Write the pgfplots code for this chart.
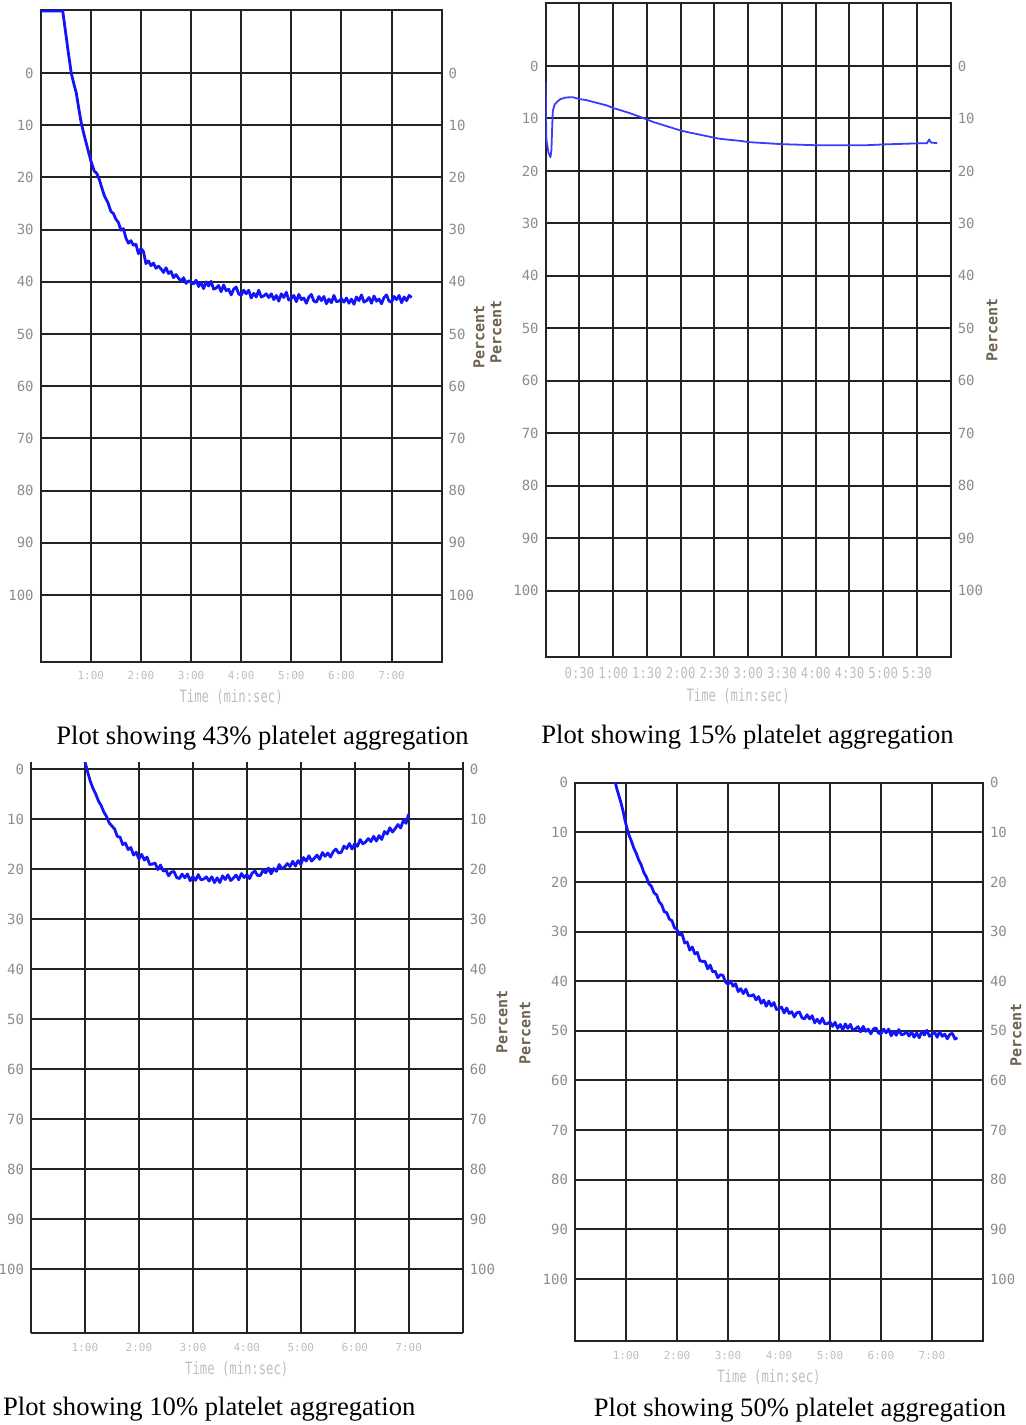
\documentclass[border=0pt]{standalone}
\usepackage{fontspec}
\setmainfont{Liberation Serif}
\newfontfamily\tickfont{DejaVu Sans Mono}
\usepackage{pgfplots}
\pgfplotsset{compat=1.18}
\definecolor{ylab}{RGB}{140,140,140}
\definecolor{xlab}{RGB}{190,190,190}
\definecolor{gridc}{RGB}{35,35,35}
\definecolor{trace}{RGB}{20,20,250}
\definecolor{trace2}{RGB}{60,60,255}
\definecolor{pct}{RGB}{110,98,80}

\pgfplotsset{
  agg/.style={scale only axis, y dir=reverse, clip=true,
    /pgf/number format/assume math mode=true,
    ytick={0,10,...,100}, grid=major,
    major grid style={gridc, line width=1pt},
    axis line style={gridc, line width=1.1pt},
    tick style={draw=none},
    yticklabel style={font=\tickfont\fontsize{7}{7}\selectfont, text=ylab},
    xticklabel style={font=\tickfont\fontsize{5.5}{6}\selectfont, text=xlab, yshift=-1.5pt},
    xlabel style={font=\tickfont\fontsize{8.5}{9}\selectfont, text=xlab, xscale=0.72, xshift=-7pt, yshift=2pt},
    xlabel={Time (min:sec)},
  },
  aggright/.style={scale only axis, y dir=reverse,
    /pgf/number format/assume math mode=true,
    ytick={0,10,...,100}, yticklabel pos=right, xtick=\empty,
    axis line style={draw=none}, tick style={draw=none},
    yticklabel style={font=\tickfont\fontsize{7}{7}\selectfont, text=ylab},
  },
}
\tikzset{
  capt/.style={font=\fontsize{13.3}{15}\selectfont, anchor=base},
  pctl/.style={rotate=90, font=\tickfont\bfseries\fontsize{7.5}{8}\selectfont, text=pct},
}

\begin{document}
\begin{tikzpicture}
\useasboundingbox (0,0) rectangle (513pt,712.5pt);

% ---------------- Panel 1 (43%) ----------------
\begin{axis}[agg, at={(20.35pt,381.65pt)}, anchor=south west,
  width=200.5pt, height=325.85pt, xmin=0, xmax=8, ymin=-12.1, ymax=112.8,
  xtick={0,1,...,8}, xticklabels={,1:00,2:00,3:00,4:00,5:00,6:00,7:00,}]
\addplot[trace, line width=1.4pt, line join=round] coordinates {
(0,-11.9) (0.44,-11.9) (0.5,-7.6) (0.55,-4) (0.61,0) (0.66,2) (0.71,3.8) (0.76,6.8)
(0.81,9.6) (0.87,12) (0.94,14.6) (1.0,16.8) (1.07,18.8) (1.12,19.2) (1.17,20.4)
(1.22,22.0) (1.27,23.5) (1.34,24.8) (1.40,26.5) (1.45,26.9) (1.5,28) (1.55,28.6)
(1.6,30.1) (1.65,29.8) (1.7,31.6) (1.75,32.6) (1.8,32.1) (1.85,33.0) (1.9,32.8)
(1.95,34.6) (2.0,33.6) (2.05,34.2) (2.1,36.5) (2.15,36.0) (2.2,36.9) (2.25,36.4)
(2.3,37.4) (2.35,37.0) (2.4,37.5) (2.45,38.2) (2.5,37.3) (2.55,38.4) (2.6,38.0)
(2.65,39.2) (2.7,38.6) (2.75,39.3) (2.8,39.9) (2.85,39.2) (2.9,40.3) (2.95,39.8)
(3.0,40.1) (3.05,40.4) (3.10,39.7) (3.15,40.9) (3.20,40.2) (3.25,41.3) (3.30,40.0)
(3.35,40.8) (3.40,39.9) (3.45,41.4) (3.50,41.2) (3.55,40.7) (3.60,41.9) (3.65,40.6)
(3.70,41.7) (3.75,41.4) (3.80,42.5) (3.85,41.4) (3.90,41.0) (3.95,42.3) (4.00,42.6)
(4.05,41.6) (4.10,42.3) (4.15,41.6) (4.20,43.1) (4.25,42.2) (4.30,42.9) (4.35,41.6)
(4.40,42.9) (4.45,42.7) (4.50,42.3) (4.55,43.0) (4.60,42.3) (4.65,43.4) (4.70,42.6)
(4.75,43.7) (4.80,42.3) (4.85,43.0) (4.90,42.0) (4.95,43.5) (5.00,43.2) (5.05,42.6)
(5.10,43.8) (5.15,42.4) (5.20,43.4) (5.25,43.1) (5.30,44.1) (5.35,42.9) (5.40,42.4)
(5.45,43.7) (5.50,43.9) (5.55,42.8) (5.60,43.6) (5.65,42.8) (5.70,44.2) (5.75,43.3)
(5.80,44.0) (5.85,42.6) (5.90,43.8) (5.95,43.7) (6.00,43.2) (6.05,43.9) (6.10,43.1)
(6.15,44.1) (6.20,43.3) (6.25,44.3) (6.30,42.9) (6.35,43.6) (6.40,42.5) (6.45,43.9)
(6.50,43.6) (6.55,43.0) (6.60,44.1) (6.65,42.7) (6.70,43.7) (6.75,43.3) (6.80,44.2)
(6.85,43.0) (6.90,42.5) (6.95,43.7) (7.00,43.9) (7.05,42.8) (7.10,43.4) (7.15,42.6)
(7.20,44.0) (7.25,42.9) (7.30,43.6) (7.35,42.6) (7.40,43.0)
};
\end{axis}
\begin{axis}[aggright, at={(20.35pt,381.65pt)}, anchor=south west,
  width=200.5pt, height=325.85pt, xmin=0, xmax=8, ymin=-12.1, ymax=112.8]
\end{axis}

% ---------------- Panel 2 (15%) ----------------
\begin{axis}[agg, at={(272.85pt,383.85pt)}, anchor=south west,
  width=202.5pt, height=327pt, xmin=0, xmax=6, ymin=-11.95, ymax=112.7,
  xtick={0,0.5,...,6}, xticklabels={,0:30,1:00,1:30,2:00,2:30,3:00,3:30,4:00,4:30,5:00,5:30,},
  xticklabel style={font=\tickfont\fontsize{7.5}{8}\selectfont, xscale=0.82, text=xlab}]
\addplot[trace2, line width=0.9pt, line join=round] coordinates {
(0,3) (0.005,10) (0.01,14) (0.04,16.5) (0.07,17.4) (0.085,16) (0.095,12) (0.105,8.6)
(0.13,7.4) (0.17,6.8) (0.22,6.3) (0.3,6.0) (0.4,5.95) (0.5,6.3) (0.6,6.5) (0.75,7.0)
(0.9,7.5) (1.0,8.0) (1.1,8.4) (1.25,9.0) (1.4,9.7) (1.5,10.2) (1.6,10.7) (1.75,11.3)
(1.9,11.9) (2.0,12.3) (2.1,12.6) (2.25,13.0) (2.4,13.4) (2.5,13.7) (2.6,13.9)
(2.75,14.1) (2.9,14.3) (3.0,14.5) (3.25,14.7) (3.5,14.9) (3.75,15.0) (4.0,15.1)
(4.25,15.1) (4.5,15.1) (4.75,15.1) (5.0,14.95) (5.25,14.85) (5.5,14.75) (5.65,14.7)
(5.68,14.0) (5.71,14.6) (5.8,14.7)
};
\end{axis}
\begin{axis}[aggright, at={(272.85pt,383.85pt)}, anchor=south west,
  width=202.5pt, height=327pt, xmin=0, xmax=6, ymin=-11.95, ymax=112.7]
\end{axis}

% ---------------- Panel 3 (10%) ----------------
\begin{axis}[agg, at={(15.5pt,45.85pt)}, anchor=south west,
  width=215.85pt, height=285.65pt, xmin=0, xmax=8, ymin=-1.4, ymax=112.8,
  axis line style={draw=none},
  ytick={0,10,20,30,40,50,60,70,80,90,100,112.8},
  yticklabels={0,10,20,30,40,50,60,70,80,90,100,{}},
  xtick={0,1,...,8}, xticklabels={,1:00,2:00,3:00,4:00,5:00,6:00,7:00,}]
\addplot[trace, line width=1.4pt, line join=round] coordinates {
(1.00,-1.5) (1.05,0.6) (1.10,2.5) (1.15,3.9) (1.20,5.0) (1.25,6.4) (1.30,7.3)
(1.35,8.6) (1.40,9.5) (1.45,10.8) (1.50,11.4) (1.55,12.0) (1.60,13.5) (1.65,13.6)
(1.70,15.1) (1.75,14.8) (1.80,16.1) (1.85,15.7) (1.90,17.2) (1.95,16.65) (2.00,18.0)
(2.05,17.05) (2.10,18.2) (2.15,17.6) (2.20,19.1) (2.25,19.0) (2.30,18.8) (2.35,20.1)
(2.40,19.2) (2.45,20.4) (2.50,20.2) (2.55,21.35) (2.60,20.6) (2.65,20.5) (2.70,21.7)
(2.75,21.9) (2.80,21.0) (2.85,21.75) (2.90,21.0) (2.95,22.35) (3.00,21.5) (3.05,22.25)
(3.10,21.1) (3.15,22.15) (3.20,22.0) (3.25,21.55) (3.30,22.4) (3.35,21.55) (3.40,22.7)
(3.45,21.75) (3.50,22.7) (3.55,21.35) (3.60,22.1) (3.65,21.15) (3.70,22.3) (3.75,21.8)
(3.80,21.2) (3.85,22.15) (3.90,20.9) (3.95,21.7) (4.00,21.1) (4.05,21.9) (4.10,20.8)
(4.15,20.4) (4.20,21.3) (4.25,21.3) (4.30,20.2) (4.35,20.75) (4.40,19.8) (4.45,20.95)
(4.50,19.9) (4.55,20.45) (4.60,19.1) (4.65,19.95) (4.70,19.6) (4.75,18.9) (4.80,19.5)
(4.85,18.45) (4.90,19.4) (4.95,18.3) (5.00,19.1) (5.05,17.7) (5.10,18.4) (5.15,17.35)
(5.20,18.4) (5.25,17.85) (5.30,17.2) (5.35,18.05) (5.40,16.7) (5.45,17.45) (5.50,16.8)
(5.55,17.6) (5.60,16.5) (5.65,16.0) (5.70,16.8) (5.75,16.65) (5.80,15.4) (5.85,15.9)
(5.90,14.9) (5.95,16.0) (6.00,14.9) (6.05,15.45) (6.10,14.1) (6.15,14.95) (6.20,14.6)
(6.25,13.9) (6.30,14.5) (6.35,13.45) (6.40,14.4) (6.45,13.3) (6.50,14.1) (6.55,12.5)
(6.60,13.0) (6.65,11.75) (6.70,12.6) (6.75,11.9) (6.80,11.1) (6.85,11.8) (6.90,10.3)
(6.95,10.85) (7.00,9.0)
};
\end{axis}
\begin{axis}[aggright, at={(15.5pt,45.85pt)}, anchor=south west,
  width=215.85pt, height=285.65pt, xmin=0, xmax=8, ymin=-1.4, ymax=112.8]
\end{axis}

% ---------------- Panel 4 (50%) ----------------
\begin{axis}[agg, at={(287.5pt,42pt)}, anchor=south west,
  width=204pt, height=279.15pt, xmin=0, xmax=8, ymin=0, ymax=112.5,
  xtick={0,1,...,8}, xticklabels={,1:00,2:00,3:00,4:00,5:00,6:00,7:00,}]
\addplot[trace, line width=1.4pt, line join=round] coordinates {
(0.78,-0.5) (0.82,1.2) (0.86,2.6) (0.90,4.0) (0.94,5.6) (0.98,7.6) (1.02,9.2)
(1.06,10.6) (1.10,11.6) (1.15,13.1) (1.20,14.2) (1.25,15.6) (1.30,16.6) (1.35,18.1)
(1.40,19.0) (1.45,20.4) (1.50,20.9) (1.55,22.2) (1.60,22.6) (1.65,24.0) (1.70,24.6)
(1.75,26.0) (1.80,26.2) (1.85,27.5) (1.90,27.8) (1.95,29.2) (2.00,29.6)
(2.05,30.7) (2.10,30.5) (2.15,32.3) (2.20,32.1) (2.25,33.75) (2.30,33.1) (2.35,34.5)
(2.40,34.2) (2.45,35.9) (2.50,36.0) (2.55,36.0) (2.60,37.5) (2.65,36.75) (2.70,38.1)
(2.75,38.0) (2.80,39.3) (2.85,38.7) (2.90,38.8) (2.95,40.15) (3.00,40.6) (3.05,39.95)
(3.10,41.0) (3.15,40.5) (3.20,42.1) (3.25,41.5) (3.30,42.5) (3.35,41.6) (3.40,42.9)
(3.45,42.95) (3.50,42.7) (3.55,43.75) (3.60,43.1) (3.65,44.45) (3.70,43.8) (3.75,45.05)
(3.80,44.0) (3.85,45.0) (3.90,44.3) (3.95,45.7) (4.00,45.5) (4.05,45.2) (4.10,46.4)
(4.15,45.4) (4.20,46.5) (4.25,46.15) (4.30,47.2) (4.35,46.35) (4.40,46.2) (4.45,47.35)
(4.50,47.6) (4.55,46.75) (4.60,47.6) (4.65,46.95) (4.70,48.4) (4.75,47.65) (4.80,48.5)
(4.85,47.45) (4.90,48.6) (4.95,48.55) (5.00,48.2) (5.05,49.1) (5.10,48.3) (5.15,49.5)
(5.20,48.7) (5.25,49.8) (5.30,48.6) (5.35,49.5) (5.40,48.7) (5.45,49.95) (5.50,49.6)
(5.55,49.15) (5.60,50.2) (5.65,49.1) (5.70,50.1) (5.75,49.65) (5.80,50.6) (5.85,49.65)
(5.90,49.4) (5.95,50.45) (6.00,50.6) (6.05,49.65) (6.10,50.4) (6.15,49.65) (6.20,51.0)
(6.25,50.15) (6.30,50.9) (6.35,49.75) (6.40,50.8) (6.45,50.65) (6.50,50.2) (6.55,51.05)
(6.60,50.2) (6.65,51.3) (6.70,50.4) (6.75,51.4) (6.80,50.1) (6.85,50.85) (6.90,49.9)
(6.95,51.1) (7.00,50.7) (7.05,50.25) (7.10,51.3) (7.15,50.15) (7.20,51.1) (7.25,50.65)
(7.30,51.6) (7.35,50.7) (7.40,50.5) (7.45,51.65) (7.50,51.4)
};
\end{axis}
\begin{axis}[aggright, at={(287.5pt,42pt)}, anchor=south west,
  width=204pt, height=279.15pt, xmin=0, xmax=8, ymin=0, ymax=112.5]
\end{axis}

% ---------------- "Percent" side labels ----------------
\node[pctl] at (239.5pt,544pt) {Percent};
\node[pctl] at (248pt,546.5pt) {Percent};
\node[pctl] at (496pt,547.5pt) {Percent};
\node[pctl] at (251pt,201.5pt) {Percent};
\node[pctl] at (262.5pt,196pt) {Percent};
\node[pctl] at (508pt,195pt) {Percent};

% ---------------- Captions ----------------
\node[capt] at (131.25pt,340pt) {Plot showing 43\% platelet aggregation};
\node[capt] at (373.75pt,340.5pt) {Plot showing 15\% platelet aggregation};
\node[capt] at (104.6pt,5pt) {Plot showing 10\% platelet aggregation};
\node[capt] at (400pt,4.5pt) {Plot showing 50\% platelet aggregation};
\end{tikzpicture}
\end{document}
